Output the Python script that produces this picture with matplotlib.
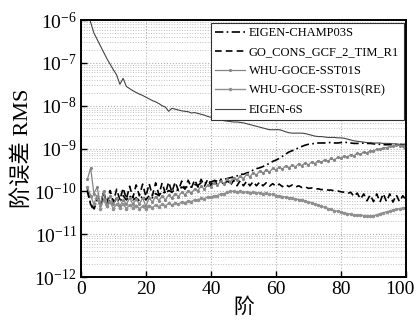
import numpy as np
import matplotlib
matplotlib.use("Agg")
import matplotlib.pyplot as plt
from matplotlib.ticker import LogLocator, NullFormatter, LogFormatterSciNotation
from matplotlib.transforms import ScaledTranslation

plt.rcParams['font.family'] = ['Liberation Serif', 'Noto Sans CJK SC']
plt.rcParams['mathtext.fontset'] = 'stix'

degree = list(range(2, 101))

# log10 of degree error RMS, degrees 2..100
eigen_champ03s = [
    -9.95, -10.3, -10.4, -10.2, -10.3, -10.15, -10.35, -10.2, -10.3, -10.15,
    -10.25, -10.1, -10.2, -10.1, -10.2, -10.15, -10.22, -10.1, -10.2, -10.1,
    -10.15, -10.05, -10.1, -10.0, -10.05, -9.98, -10.02, -9.95, -9.98, -9.9,
    -9.93, -9.87, -9.9, -9.84, -9.86, -9.8, -9.82, -9.77, -9.78, -9.75,
    -9.76, -9.72, -9.72, -9.7, -9.68, -9.66, -9.64, -9.6, -9.6, -9.57,
    -9.55, -9.5, -9.47, -9.45, -9.42, -9.38, -9.35, -9.3, -9.27, -9.23,
    -9.18, -9.13, -9.08, -9.05, -9.02, -8.98, -8.95, -8.92, -8.9, -8.89,
    -8.88, -8.87, -8.87, -8.87, -8.86, -8.86, -8.87, -8.87, -8.86, -8.85,
    -8.86, -8.87, -8.88, -8.88, -8.88, -8.87, -8.88, -8.88, -8.89, -8.9,
    -8.9, -8.91, -8.91, -8.91, -8.9, -8.91, -8.9, -8.91, -8.9,
]
go_cons_tim_r1 = [
    -10.0, -10.3, -10.45, -10.1, -10.35, -10.0, -10.3, -9.98, -10.25, -9.95,
    -10.2, -9.92, -10.18, -9.88, -10.15, -9.85, -10.1, -9.83, -10.12, -9.82,
    -10.1, -9.8, -10.08, -9.8, -10.05, -9.78, -10.02, -9.78, -9.98, -9.76,
    -9.95, -9.74, -9.92, -9.73, -9.9, -9.72, -9.88, -9.72, -9.86, -9.72,
    -9.86, -9.73, -9.86, -9.74, -9.86, -9.74, -9.87, -9.75, -9.87, -9.76,
    -9.87, -9.77, -9.87, -9.78, -9.87, -9.8, -9.88, -9.82, -9.88, -9.83,
    -9.89, -9.84, -9.89, -9.85, -9.9, -9.87, -9.91, -9.89, -9.93, -9.92,
    -9.95, -9.94, -9.96, -9.95, -9.97, -9.97, -9.99, -9.99, -10.01, -10.02,
    -10.05, -10.02, -10.12, -10.04, -10.18, -10.06, -10.22, -10.08, -10.24, -10.06,
    -10.25, -10.05, -10.24, -10.06, -10.25, -10.08, -10.24, -10.1, -10.2,
]
whu_sst01s = [
    -9.72, -9.45, -10.05, -9.9, -10.3, -10.0, -10.35, -10.1, -10.3, -10.15,
    -10.35, -10.2, -10.3, -10.15, -10.3, -10.18, -10.3, -10.15, -10.35, -10.15,
    -10.25, -10.12, -10.22, -10.1, -10.2, -10.08, -10.16, -10.05, -10.12, -10.02,
    -10.08, -9.98, -10.04, -9.94, -9.98, -9.88, -9.95, -9.85, -9.9, -9.8,
    -9.86, -9.76, -9.82, -9.72, -9.77, -9.68, -9.74, -9.64, -9.7, -9.6,
    -9.66, -9.56, -9.62, -9.52, -9.58, -9.49, -9.55, -9.46, -9.5, -9.43,
    -9.48, -9.4, -9.45, -9.38, -9.43, -9.35, -9.4, -9.33, -9.38, -9.31,
    -9.35, -9.28, -9.32, -9.26, -9.3, -9.23, -9.27, -9.2, -9.23, -9.17,
    -9.2, -9.14, -9.17, -9.11, -9.13, -9.08, -9.1, -9.05, -9.06, -9.01,
    -9.02, -8.98, -8.98, -8.95, -8.95, -8.92, -8.93, -8.95, -9.05,
]
whu_sst01s_re = [
    -9.9, -10.1, -10.3, -10.1, -10.4, -10.2, -10.35, -10.25, -10.4, -10.3,
    -10.38, -10.3, -10.4, -10.32, -10.38, -10.33, -10.4, -10.35, -10.42, -10.33,
    -10.38, -10.32, -10.36, -10.3, -10.34, -10.28, -10.32, -10.27, -10.3, -10.25,
    -10.27, -10.22, -10.24, -10.19, -10.21, -10.16, -10.17, -10.13, -10.14, -10.1,
    -10.1, -10.06, -10.06, -10.02, -10.0, -10.0, -10.01, -10.0, -10.02, -10.01,
    -10.03, -10.02, -10.04, -10.03, -10.05, -10.04, -10.07, -10.07, -10.1, -10.1,
    -10.12, -10.13, -10.15, -10.16, -10.18, -10.19, -10.21, -10.22, -10.25, -10.27,
    -10.3, -10.32, -10.35, -10.37, -10.4, -10.42, -10.45, -10.46, -10.48, -10.5,
    -10.52, -10.53, -10.55, -10.55, -10.56, -10.57, -10.58, -10.58, -10.57, -10.55,
    -10.52, -10.5, -10.48, -10.46, -10.44, -10.42, -10.4, -10.39, -10.38,
]
eigen_6s = [
    -5.8, -6.05, -6.3, -6.45, -6.6, -6.75, -6.9, -7.03, -7.16, -7.28,
    -7.5, -7.36, -7.55, -7.6, -7.65, -7.69, -7.73, -7.76, -7.8, -7.84,
    -7.88, -7.91, -7.95, -8.0, -8.03, -8.13, -8.06, -8.08, -8.1, -8.12,
    -8.13, -8.14, -8.17, -8.16, -8.18, -8.2, -8.22, -8.25, -8.27, -8.29,
    -8.31, -8.33, -8.35, -8.36, -8.37, -8.38, -8.38, -8.39, -8.4, -8.42,
    -8.44, -8.46, -8.48, -8.5, -8.52, -8.54, -8.56, -8.56, -8.56, -8.56,
    -8.58, -8.61, -8.63, -8.64, -8.64, -8.64, -8.64, -8.65, -8.67, -8.69,
    -8.71, -8.72, -8.72, -8.73, -8.74, -8.74, -8.74, -8.75, -8.75, -8.76,
    -8.78, -8.8, -8.82, -8.83, -8.84, -8.85, -8.86, -8.86, -8.87, -8.87,
    -8.87, -8.88, -8.88, -8.88, -8.89, -8.89, -8.9, -8.9, -8.91,
]

labels = ['EIGEN-CHAMP03S', 'GO_CONS_GCF_2_TIM_R1', 'WHU-GOCE-SST01S',
          'WHU-GOCE-SST01S(RE)', 'EIGEN-6S']
y_exponents = [-12, -11, -10, -9, -8, -7, -6]

fig = plt.figure(figsize=(4.19, 3.24), dpi=100)
ax = fig.add_axes([0.193, 0.145, 0.776, 0.793])

ax.plot(degree, 10 ** np.array(eigen_champ03s), color='black', lw=1.2,
        ls=(0, (5, 2, 1, 2)), label=labels[0])
ax.plot(degree, 10 ** np.array(go_cons_tim_r1), color='black', lw=1.2,
        ls=(0, (4, 2.5)), label=labels[1])
ax.plot(degree, 10 ** np.array(whu_sst01s), color='#858585', lw=0.9,
        marker='.', ms=2.5, label=labels[2])
ax.plot(degree, 10 ** np.array(whu_sst01s_re), color='#8f8f8f', lw=1.0,
        marker='.', ms=3, label=labels[3])
ax.plot(degree, 10 ** np.array(eigen_6s), color='#444444', lw=0.8,
        label=labels[4])

ax.set_yscale('log')
ax.set_xlim(0, 100)
ax.set_ylim(1e-12, 1e-6)
ax.set_xticks([0, 20, 40, 60, 80, 100])
ax.set_yticks([10.0 ** e for e in y_exponents])
ax.yaxis.set_major_formatter(LogFormatterSciNotation())
ax.yaxis.set_minor_locator(LogLocator(base=10, subs=np.arange(2, 10), numticks=20))
ax.yaxis.set_minor_formatter(NullFormatter())
ax.tick_params(which='major', direction='in', length=4, width=1, labelsize=14,
               pad=3)
ax.tick_params(which='minor', length=0)

ax.grid(True, which='major', axis='both', ls=':', color='#b0b0b0', lw=0.8)
ax.grid(True, which='minor', axis='y', ls=':', color='#c0c0c0', lw=0.7)
for s in ax.spines.values():
    s.set_linewidth(1.4)

ax.set_xlabel('阶', fontsize=15, labelpad=0)
ax.set_ylabel('阶误差 RMS', fontsize=16, labelpad=1)

# last x label sits a bit left of its tick, as in the original
last = ax.get_xticklabels()[-1]
last.set_transform(last.get_transform() + ScaledTranslation(-0.06, 0, fig.dpi_scale_trans))

leg = ax.legend(loc='upper right', fontsize=9, handlelength=2.4,
                borderaxespad=0.2, fancybox=False, framealpha=1,
                edgecolor='#333333', labelspacing=0.58, borderpad=0.35,
                handletextpad=0.3)
leg.get_frame().set_linewidth(0.8)

fig.savefig('out.png', dpi=100)
